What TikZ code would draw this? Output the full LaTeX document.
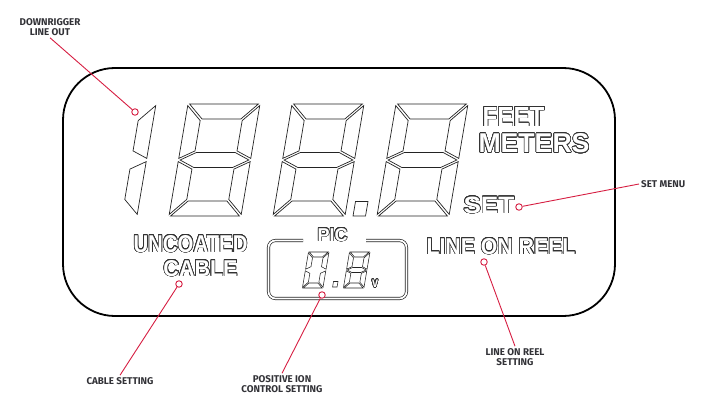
\documentclass[tikz,border=0pt]{standalone}
\usepackage{fontspec}
\usepackage{graphicx}
\usepackage{contour}
\newfontfamily\lcdfont{Liberation Sans}
\newfontfamily\lblfont{Fira Sans}
\contourlength{0.65pt}
\contournumber{24}
\definecolor{leadred}{RGB}{214,30,66}
\definecolor{lbltext}{RGB}{50,50,55}
\definecolor{segc}{RGB}{35,35,35}
\definecolor{lcdline}{RGB}{50,50,50}
\newcommand{\lcd}[3]{\textcolor{white}{\contour{lcdline}{\resizebox{#1}{#2}{\lcdfont\bfseries #3}}}}
% seven-segment geometry (u right, v down)
\def\dgW{72}\def\dgH{112}\def\dgT{15}\def\dgM{56}\def\dgG{1.6}
\newcommand{\segA}{\draw[seg] (\dgG,0) -- ({\dgW-\dgG},0) -- ({\dgW-\dgT-\dgG},\dgT) -- ({\dgT+\dgG},\dgT) -- cycle;}
\newcommand{\segB}{\draw[seg] (\dgW,\dgG) -- (\dgW,{\dgM-\dgG}) -- ({\dgW-\dgT},{\dgM-\dgT/2-\dgG}) -- ({\dgW-\dgT},{\dgT+\dgG}) -- cycle;}
\newcommand{\segC}{\draw[seg] (\dgW,{\dgM+\dgG}) -- (\dgW,{\dgH-\dgG}) -- ({\dgW-\dgT},{\dgH-\dgT-\dgG}) -- ({\dgW-\dgT},{\dgM+\dgT/2+\dgG}) -- cycle;}
\newcommand{\segD}{\draw[seg] (\dgG,\dgH) -- ({\dgW-\dgG},\dgH) -- ({\dgW-\dgT-\dgG},{\dgH-\dgT}) -- ({\dgT+\dgG},{\dgH-\dgT}) -- cycle;}
\newcommand{\segE}{\draw[seg] (0,{\dgM+\dgG}) -- (0,{\dgH-\dgG}) -- (\dgT,{\dgH-\dgT-\dgG}) -- (\dgT,{\dgM+\dgT/2+\dgG}) -- cycle;}
\newcommand{\segF}{\draw[seg] (0,\dgG) -- (0,{\dgM-\dgG}) -- (\dgT,{\dgM-\dgT/2-\dgG}) -- (\dgT,{\dgT+\dgG}) -- cycle;}
\newcommand{\segMid}{\draw[seg] (\dgG,\dgM) -- ({\dgT+\dgG},{\dgM-\dgT/2}) -- ({\dgW-\dgT-\dgG},{\dgM-\dgT/2}) -- ({\dgW-\dgG},\dgM) -- ({\dgW-\dgT-\dgG},{\dgM+\dgT/2}) -- ({\dgT+\dgG},{\dgM+\dgT/2}) -- cycle;}
\newcommand{\digitat}[3]{\begin{scope}[shift={(#1,#2)},xslant=0.17]#3\end{scope}}
\begin{document}
\begin{tikzpicture}[x=1pt,y=-1pt,
  seg/.style={draw=segc,line width=0.7pt,line join=miter},
  frame/.style={draw=black,line width=1.8pt,rounded corners=52pt},
  picbox/.style={draw=segc,line width=0.7pt,double=white,double distance=1.7pt,rounded corners=7pt},
  lead/.style={draw=leadred,line width=0.9pt},
  dot/.style={circle,draw=leadred,fill=white,line width=0.9pt,minimum size=6.5pt,inner sep=0pt},
  lbl/.style={font=\lblfont\bfseries\fontsize{9.8}{10}\selectfont,text=lbltext,align=center,inner sep=2pt},
  lcdtext/.style={inner sep=0pt}]
\useasboundingbox (0,0) rectangle (703,401);
% display frame
\draw[frame] (63,68) rectangle (615,316);
% big digits "188.8"
\digitat{84}{104}{\segB\segC}
\digitat{188}{104}{\segA\segB\segC\segD\segE\segF\segMid}
\digitat{292}{104}{\segA\segB\segC\segD\segE\segF\segMid}
\digitat{396}{104}{\segA\segB\segC\segD\segE\segF\segMid}
\begin{scope}[shift={(355.5,201.5)},xslant=0.17]
  \draw[seg] (0,0) rectangle (12.5,14.5);
\end{scope}
% LCD words
\node[lcdtext] (feet) at (513.5,117) {\lcd{62pt}{19pt}{FEET}};
\node[lcdtext] (meters) at (534,143.5) {\lcd{111pt}{19pt}{METERS}};
\node[lcdtext] (set) at (489,205.5) {\lcd{51pt}{16.5pt}{SET}};
\node[lcdtext] (reel) at (501,246.5) {\lcd{149pt}{16pt}{LINE ON REEL}};
\node[lcdtext] (uncoated) at (190.5,244) {\lcd{114pt}{17pt}{UNCOATED}};
\node[lcdtext] (cable) at (200.5,268.5) {\lcd{74pt}{16pt}{CABLE}};
\node[lcdtext] (pic) at (332.5,235) {\lcd{30pt}{13pt}{PIC}};
\node[lcdtext] (volt) at (375,284) {\lcd{6pt}{7.5pt}{v}};
% PIC box
\draw[picbox] (303,240.5) -| (268.5,298.5) -| (406.5,240.5) -- (366,240.5);
% small digits "0.8"
\begin{scope}[seg/.style={draw=segc,line width=0.55pt}]
\def\dgW{20.5}\def\dgH{36}\def\dgT{5}\def\dgM{18}\def\dgG{0.8}
\digitat{308.5}{252}{\segA\segB\segC\segD\segE\segF}
\digitat{349.5}{252}{\segA\segB\segC\segD\segE\segF\segMid}
\begin{scope}[shift={(333.5,281.5)},xslant=0.17]
  \draw[seg] (0,0) rectangle (4.5,5.5);
\end{scope}
\end{scope}
% callouts
\node[dot] (d1) at (135,112) {};
\node[dot] (d2) at (519,207) {};
\node[dot] (d3) at (484,262) {};
\node[dot] (d4) at (179,284) {};
\node[dot] (d5) at (322,295) {};
\node[lbl] (t1) at (50,27) {DOWNRIGGER\\LINE OUT};
\node[lbl,anchor=west] (t2) at (639,184) {SET MENU};
\node[lbl] (t3) at (515,357) {LINE ON REEL\\SETTING};
\node[lbl] (t4) at (120,381) {CABLE SETTING};
\node[lbl] (t5) at (282,384) {POSITIVE ION\\CONTROL SETTING};
\draw[lead] (t1.south) -- (d1);
\draw[lead] (t2.west) -- (d2);
\draw[lead] (t3.north) -- (d3);
\draw[lead] (t4.north) -- (d4);
\draw[lead] (t5.north) -- (d5);
\end{tikzpicture}
\end{document}
